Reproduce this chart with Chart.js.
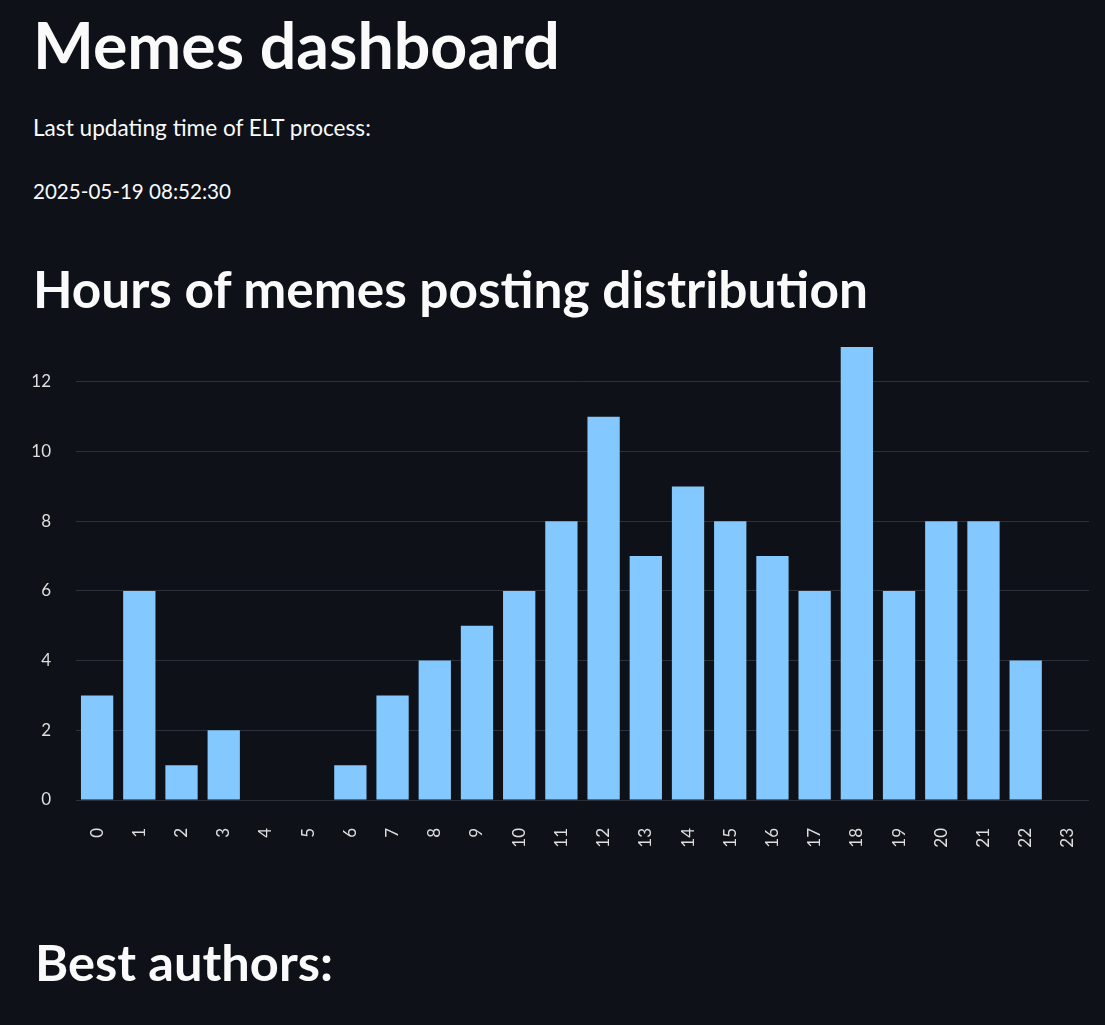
<!DOCTYPE html>
<html>
<head>
<meta charset="utf-8">
<script src="https://cdn.jsdelivr.net/npm/chart.js@4"></script>
<style>
  html, body { margin:0; padding:0; background:#0e1117; width:1105px; height:1025px; overflow:hidden; }
  .t { position:absolute; color:#fafafa; font-family: Lato, "Noto Sans", sans-serif; white-space:nowrap; line-height:1.2; }
  #chartWrap { position:absolute; left:0; top:330px; width:1105px; height:530px; }
</style>
</head>
<body>
<div class="t" id="h1" style="font-weight:700">Memes dashboard</div>
<div class="t" id="p1" style="font-weight:400">Last updating time of ELT process:</div>
<div class="t" id="p2" style="font-weight:400">2025-05-19 08:52:30</div>
<div class="t" id="h2" style="font-weight:700">Hours of memes posting distribution</div>
<div class="t" id="h3" style="font-weight:700">Best authors:</div>
<div id="chartWrap"><canvas id="c"></canvas></div>
<script>
// ---- data ----
const hours = ['0','1','2','3','4','5','6','7','8','9','10','11','12','13','14','15','16','17','18','19','20','21','22','23'];
const memeCounts = [3,6,1,2,0,0,1,3,4,5,6,8,11,7,9,8,7,6,13,6,8,8,4,0];
const yTickStep = 2;
const yMax = 13;

// ---- text layout (left x, baseline y, target width) ----
const textLayout = [
  ['h1', 33, 69, 527, 62],
  ['p1', 33, 136, 338, 24],
  ['p2', 33, 199, 198, 24],
  ['h2', 33, 308, 835, 51],
  ['h3', 35, 981, 298, 51]
];
function placeTexts() {
  for (const [id, x, base, w, fs] of textLayout) {
    const el = document.getElementById(id);
    el.style.fontSize = fs + 'px';
    el.style.left = x + 'px';
    el.style.top = '0px';
    const r = el.getBoundingClientRect();
    const nfs = fs * w / r.width;
    el.style.fontSize = nfs.toFixed(2) + 'px';
    const m = document.createElement('span');
    m.style.cssText = 'display:inline-block;width:0;height:0;vertical-align:baseline';
    el.appendChild(m);
    const mb = m.getBoundingClientRect().top;
    el.style.top = (base - mb) + 'px';
  }
}
placeTexts();

// ---- chart ----
const tickColor = '#dedede';
const tickFont = { family: 'Lato, "Noto Sans", sans-serif', size: 17 };
function zeroPad(scale) {
  scale.paddingTop = 0; scale.paddingBottom = 0;
  scale.paddingLeft = 0; scale.paddingRight = 0;
}
new Chart(document.getElementById('c'), {
  type: 'bar',
  data: {
    labels: hours,
    datasets: [{
      data: memeCounts,
      backgroundColor: '#83c9ff',
      borderWidth: 0,
      barPercentage: 0.765,
      categoryPercentage: 1.0
    }]
  },
  options: {
    responsive: true,
    maintainAspectRatio: false,
    animation: false,
    layout: { padding: { top: 17, right: 16, left: 0, bottom: 0 } },
    plugins: { legend: { display: false }, tooltip: { enabled: false } },
    scales: {
      x: {
        grid: { display: false },
        border: { display: false },
        ticks: {
          color: tickColor, font: tickFont, autoSkip: false,
          maxRotation: 90, minRotation: 90, padding: 20
        },
        afterFit(scale) { scale.height = 60; zeroPad(scale); }
      },
      y: {
        min: 0, max: yMax,
        grid: { color: '#2e3039', lineWidth: 1, drawTicks: false },
        border: { display: false },
        ticks: { stepSize: yTickStep, includeBounds: false, color: tickColor, font: tickFont, padding: 25 },
        afterFit(scale) { scale.width = 76; zeroPad(scale); }
      }
    }
  }
});
</script>
</body>
</html>
